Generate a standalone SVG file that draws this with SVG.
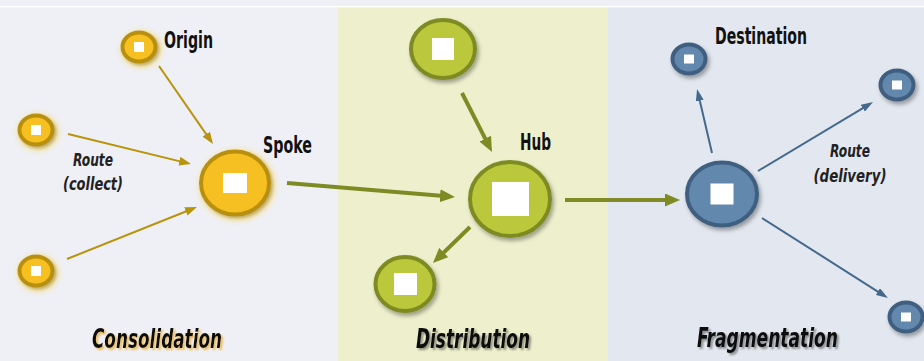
<svg xmlns="http://www.w3.org/2000/svg" width="924" height="361" viewBox="0 0 924 361">
<style>
.lbl{font-family:"DejaVu Sans","Liberation Sans",sans-serif;font-weight:bold;font-stretch:condensed;fill:#111;}
.rt{font-family:"DejaVu Sans","Liberation Sans",sans-serif;font-weight:bold;font-style:italic;font-stretch:condensed;fill:#222;text-anchor:middle;}
.sec{font-family:"DejaVu Sans","Liberation Sans",sans-serif;font-weight:bold;font-style:italic;font-stretch:condensed;fill:#111;}
.gold{fill:#f6c021;stroke:#b8900b;stroke-width:4;filter:url(#glow);}
.green{fill:#bcc83a;stroke:#7e8b24;stroke-width:4;filter:url(#shadow);}
.blue{fill:#6288ad;stroke:#3f5f80;stroke-width:4;filter:url(#shadow);}
.sq{fill:#ffffff;}
.cg{stroke:#b8930c;stroke-width:2;fill:none;marker-end:url(#ag);}
.cn{stroke:#7e8b24;stroke-width:4;fill:none;marker-end:url(#an);}
.cb{stroke:#44698c;stroke-width:2;fill:none;marker-end:url(#ab);}
</style>
<defs>
<filter id="glow" x="-40%" y="-40%" width="180%" height="180%">
<feGaussianBlur in="SourceAlpha" stdDeviation="3.5" result="b"/>
<feOffset in="b" dx="2" dy="2" result="o"/>
<feFlood flood-color="#f5de8c"/>
<feComposite in2="o" operator="in" result="g"/>
<feGaussianBlur in="SourceAlpha" stdDeviation="1.5" result="b2"/>
<feOffset in="b2" dx="2" dy="2" result="o2"/>
<feFlood flood-color="#6b5a10" flood-opacity="0.5"/>
<feComposite in2="o2" operator="in" result="s"/>
<feMerge><feMergeNode in="g"/><feMergeNode in="g"/><feMergeNode in="s"/><feMergeNode in="SourceGraphic"/></feMerge>
</filter>
<filter id="shadow" x="-30%" y="-30%" width="170%" height="170%">
<feGaussianBlur in="SourceAlpha" stdDeviation="2" result="b"/>
<feOffset in="b" dx="2" dy="3" result="o"/>
<feFlood flood-color="#000" flood-opacity="0.35"/>
<feComposite in2="o" operator="in" result="s"/>
<feMerge><feMergeNode in="s"/><feMergeNode in="SourceGraphic"/></feMerge>
</filter>
<filter id="tglow" x="-10%" y="-30%" width="120%" height="160%">
<feGaussianBlur in="SourceAlpha" stdDeviation="1" result="b"/>
<feOffset in="b" dx="1.5" dy="1.5" result="o"/>
<feFlood flood-color="#e8b040" flood-opacity="0.8"/>
<feComposite in2="o" operator="in" result="s"/>
<feMerge><feMergeNode in="s"/><feMergeNode in="SourceGraphic"/></feMerge>
</filter>
<filter id="tshadow" x="-10%" y="-30%" width="120%" height="160%">
<feGaussianBlur in="SourceAlpha" stdDeviation="1" result="b"/>
<feOffset in="b" dx="1.5" dy="1.5" result="o"/>
<feFlood flood-color="#000" flood-opacity="0.4"/>
<feComposite in2="o" operator="in" result="s"/>
<feMerge><feMergeNode in="s"/><feMergeNode in="SourceGraphic"/></feMerge>
</filter>
<marker id="ag" markerUnits="userSpaceOnUse" markerWidth="12" markerHeight="9" refX="6" refY="4.5" orient="auto"><path d="M0,0 L12,4.5 L0,9 z" fill="#b8930c"/></marker>
<marker id="an" markerUnits="userSpaceOnUse" markerWidth="15" markerHeight="13" refX="7" refY="6.5" orient="auto"><path d="M0,0 L15,6.5 L0,13 z" fill="#7e8b24"/></marker>
<marker id="ab" markerUnits="userSpaceOnUse" markerWidth="12" markerHeight="8" refX="6" refY="4" orient="auto"><path d="M0,0 L12,4 L0,8 z" fill="#44698c"/></marker>
</defs>

<g id="background">
<rect x="0" y="0" width="924" height="361" fill="#eef0f5"/>
<rect x="0" y="6" width="924" height="1.5" fill="#ffffff"/>
<rect x="0" y="7.5" width="338" height="354" fill="#eff0f6"/>
<rect x="338" y="7.5" width="270" height="354" fill="#eef0cd"/>
<rect x="608" y="7.5" width="316" height="354" fill="#e3e8f0"/>
</g>

<g id="connectors">
<line class="cg" x1="159" y1="66" x2="209.6" y2="139.1"/>
<line class="cg" x1="68" y1="134" x2="185.2" y2="162.6"/>
<line class="cg" x1="67" y1="259" x2="191.4" y2="209.2"/>
<line class="cn" x1="287" y1="183" x2="447" y2="196.3"/>
<line class="cn" x1="462" y1="93" x2="488.4" y2="144.9"/>
<line class="cn" x1="470" y1="227" x2="438.7" y2="257.4"/>
<line class="cn" x1="565" y1="200" x2="672" y2="200"/>
<line class="cb" x1="712" y1="153" x2="698.4" y2="94.8"/>
<line class="cb" x1="758" y1="171" x2="867.9" y2="105.1"/>
<line class="cb" x1="762" y1="218" x2="882.9" y2="294.8"/>
</g>

<g id="origin">
<ellipse class="gold" cx="139" cy="47" rx="16.5" ry="14.5"/>
<rect class="sq" x="134" y="42" width="10" height="10"/>
<text class="lbl" x="164" y="48" font-size="23" textLength="49" lengthAdjust="spacingAndGlyphs">Origin</text>
</g>
<g id="origin2">
<ellipse class="gold" cx="36" cy="130" rx="16.5" ry="14.5"/>
<rect class="sq" x="31" y="125" width="10" height="10"/>
</g>
<g id="origin3">
<ellipse class="gold" cx="36" cy="271" rx="16.5" ry="14.5"/>
<rect class="sq" x="31" y="266" width="10" height="10"/>
</g>
<g id="route-collect">
<text class="rt" x="93" y="166" font-size="18" textLength="40" lengthAdjust="spacingAndGlyphs">Route</text>
<text class="rt" x="93" y="190" font-size="18" textLength="60" lengthAdjust="spacingAndGlyphs">(collect)</text>
</g>
<g id="spoke">
<ellipse class="gold" cx="235" cy="183" rx="34" ry="31.5" stroke-width="5"/>
<rect class="sq" x="223" y="173" width="24" height="20"/>
<text class="lbl" x="263" y="153" font-size="23" textLength="49" lengthAdjust="spacingAndGlyphs">Spoke</text>
</g>

<g id="dist-top">
<ellipse class="green" cx="443" cy="49" rx="32" ry="29"/>
<rect class="sq" x="432" y="38" width="22" height="22"/>
</g>
<g id="hub">
<ellipse class="green" cx="510" cy="199" rx="40" ry="37"/>
<rect class="sq" x="492" y="182" width="37" height="34"/>
<text class="lbl" x="520" y="150" font-size="23" textLength="31" lengthAdjust="spacingAndGlyphs">Hub</text>
</g>
<g id="dist-bottom">
<ellipse class="green" cx="405" cy="284" rx="29.5" ry="27"/>
<rect class="sq" x="394" y="273" width="23" height="22"/>
</g>

<g id="frag-hub">
<ellipse class="blue" cx="722" cy="194" rx="35" ry="31.5"/>
<rect class="sq" x="710.5" y="183.5" width="23" height="21"/>
</g>
<g id="destination">
<ellipse class="blue" cx="689" cy="59" rx="16.5" ry="14.5"/>
<rect class="sq" x="684" y="54.5" width="10" height="9"/>
<text class="lbl" x="715" y="44" font-size="23" textLength="92" lengthAdjust="spacingAndGlyphs">Destination</text>
</g>
<g id="dest2">
<ellipse class="blue" cx="897" cy="85" rx="16.5" ry="14.5"/>
<rect class="sq" x="892" y="80.5" width="10" height="9"/>
</g>
<g id="dest3">
<ellipse class="blue" cx="906" cy="317" rx="16.5" ry="14.5"/>
<rect class="sq" x="901" y="312.5" width="10" height="9"/>
</g>
<g id="route-delivery">
<text class="rt" x="850" y="157" font-size="18" textLength="40" lengthAdjust="spacingAndGlyphs">Route</text>
<text class="rt" x="850" y="182" font-size="18" textLength="73" lengthAdjust="spacingAndGlyphs">(delivery)</text>
</g>

<g id="sections">
<text class="sec" x="92" y="348" font-size="27" textLength="130" lengthAdjust="spacingAndGlyphs" filter="url(#tglow)">Consolidation</text>
<text class="sec" x="416" y="348" font-size="27" textLength="114" lengthAdjust="spacingAndGlyphs" filter="url(#tshadow)">Distribution</text>
<text class="sec" x="697" y="347" font-size="27" textLength="141" lengthAdjust="spacingAndGlyphs" filter="url(#tshadow)">Fragmentation</text>
</g>
</svg>
